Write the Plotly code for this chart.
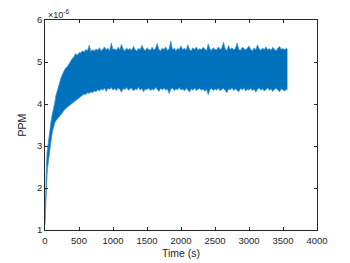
import plotly.graph_objects as go

# Envelope of the noisy PPM signal (values in units of 1e-6)
t_rise = [0, 5, 10, 15, 20, 30, 40, 50, 60, 70,
          80, 90, 100, 115, 130, 145, 160, 175, 190, 205,
          220, 240, 260, 280, 300, 325, 350, 375, 400, 425,
          450, 475, 500]
upper_rise = [1.25, 1.80, 2.10, 2.30, 2.50, 2.85, 3.00, 3.15, 3.30, 3.40,
              3.50, 3.60, 3.70, 3.80, 3.95, 4.05, 4.20, 4.28, 4.40, 4.50,
              4.55, 4.65, 4.72, 4.78, 4.85, 4.88, 4.95, 5.02, 5.08, 5.12,
              5.20, 5.16, 5.22]
lower_rise = [1.12, 1.35, 1.65, 1.90, 2.05, 2.30, 2.50, 2.65, 2.80, 2.95,
              3.05, 3.15, 3.25, 3.38, 3.48, 3.55, 3.60, 3.63, 3.65, 3.67,
              3.72, 3.76, 3.80, 3.85, 3.89, 3.92, 3.95, 3.98, 4.02, 4.05,
              4.08, 4.11, 4.14]

t_plateau = [525, 550, 575, 600, 625, 650, 675, 700, 725, 750,
             775, 800, 825, 850, 875, 900, 925, 950, 975, 1000,
             1025, 1050, 1075, 1100, 1125, 1150, 1175, 1200, 1225, 1250,
             1275, 1300, 1325, 1350, 1375, 1400, 1425, 1450, 1475, 1500,
             1525, 1550, 1575, 1600, 1625, 1650, 1675, 1700, 1725, 1750,
             1775, 1800, 1825, 1850, 1875, 1900, 1925, 1950, 1975, 2000,
             2025, 2050, 2075, 2100, 2125, 2150, 2175, 2200, 2225, 2250,
             2275, 2300, 2325, 2350, 2375, 2400, 2425, 2450, 2475, 2500,
             2525, 2550, 2575, 2600, 2625, 2650, 2675, 2700, 2725, 2750,
             2775, 2800, 2825, 2850, 2875, 2900, 2925, 2950, 2975, 3000,
             3025, 3050, 3075, 3100, 3125, 3150, 3175, 3200, 3225, 3250,
             3275, 3300, 3325, 3350, 3375, 3400, 3425, 3450, 3475, 3500,
             3525, 3550, 3565]
upper_plateau = [5.22, 5.26, 5.24, 5.30, 5.27, 5.40, 5.25, 5.29, 5.26, 5.31,
                 5.28, 5.34, 5.27, 5.30, 5.36, 5.29, 5.33, 5.27, 5.45, 5.30,
                 5.31, 5.28, 5.35, 5.29, 5.42, 5.30, 5.27, 5.33, 5.29, 5.32,
                 5.28, 5.37, 5.30, 5.26, 5.33, 5.29, 5.40, 5.31, 5.27, 5.34,
                 5.30, 5.28, 5.35, 5.29, 5.32, 5.44, 5.30, 5.27, 5.33, 5.30,
                 5.36, 5.28, 5.31, 5.50, 5.29, 5.33, 5.27, 5.32, 5.30, 5.38,
                 5.29, 5.33, 5.28, 5.41, 5.30, 5.27, 5.34, 5.30, 5.36, 5.28,
                 5.32, 5.29, 5.35, 5.30, 5.27, 5.43, 5.31, 5.28, 5.34, 5.30,
                 5.29, 5.36, 5.30, 5.33, 5.47, 5.31, 5.28, 5.39, 5.30, 5.34,
                 5.29, 5.32, 5.45, 5.30, 5.28, 5.35, 5.31, 5.29, 5.33, 5.38,
                 5.30, 5.27, 5.34, 5.29, 5.41, 5.31, 5.28, 5.33, 5.30, 5.36,
                 5.29, 5.32, 5.28, 5.35, 5.30, 5.27, 5.33, 5.37, 5.30, 5.32,
                 5.29, 5.33, 5.30]
lower_plateau = [4.18, 4.21, 4.24, 4.22, 4.27, 4.25, 4.29, 4.27, 4.31, 4.29,
                 4.34, 4.31, 4.36, 4.33, 4.38, 4.30, 4.37, 4.35, 4.39, 4.33,
                 4.37, 4.32, 4.38, 4.35, 4.28, 4.37, 4.34, 4.39, 4.33, 4.36,
                 4.38, 4.31, 4.36, 4.34, 4.40, 4.33, 4.37, 4.29, 4.36, 4.34,
                 4.38, 4.32, 4.36, 4.33, 4.39, 4.35, 4.30, 4.37, 4.34, 4.38,
                 4.33, 4.36, 4.25, 4.35, 4.38, 4.32, 4.36, 4.34, 4.39, 4.33,
                 4.36, 4.31, 4.37, 4.34, 4.28, 4.36, 4.33, 4.38, 4.32, 4.35,
                 4.37, 4.33, 4.36, 4.30, 4.35, 4.22, 4.34, 4.37, 4.32, 4.36,
                 4.33, 4.38, 4.31, 4.35, 4.37, 4.32, 4.27, 4.36, 4.34, 4.38,
                 4.32, 4.36, 4.33, 4.29, 4.37, 4.34, 4.38, 4.31, 4.35, 4.33,
                 4.37, 4.32, 4.36, 4.28, 4.35, 4.38, 4.33, 4.36, 4.31, 4.35,
                 4.38, 4.33, 4.36, 4.30, 4.35, 4.37, 4.32, 4.29, 4.36, 4.34,
                 4.31, 4.35, 4.33]

x_ticks = [0, 500, 1000, 1500, 2000, 2500, 3000, 3500, 4000]
y_ticks = [1, 2, 3, 4, 5, 6]

SCALE = 1e-6
blue = "#0072BD"
edge = "#3d93d0"
axis_col = "#262626"
font = "Liberation Sans, Arial, sans-serif"

t_all = t_rise + t_plateau
upper = [v * SCALE for v in upper_rise + upper_plateau]
lower = [v * SCALE for v in lower_rise + lower_plateau]

fig = go.Figure()
fig.add_trace(go.Scatter(x=t_all, y=lower, mode="lines",
                         line=dict(color=edge, width=0.7), showlegend=False, hoverinfo="skip"))
fig.add_trace(go.Scatter(x=t_all, y=upper, mode="lines",
                         line=dict(color=edge, width=0.7), fill="tonexty", fillcolor=blue,
                         showlegend=False, hoverinfo="skip"))

axis_common = dict(ticks="inside", ticklen=3, tickwidth=0.6, tickcolor=axis_col,
                   showline=True, linecolor=axis_col, linewidth=0.6, mirror="ticks",
                   showgrid=False, zeroline=False, automargin=False,
                   tickfont=dict(size=9.5, color=axis_col))

# The page body adds an 8 px offset, so the figure is 8 px smaller each way
fig.update_layout(
    width=342, height=255,
    margin=dict(l=37, r=33, t=12, b=33),
    paper_bgcolor="white", plot_bgcolor="white",
    font=dict(family=font, size=10, color=axis_col),
    xaxis=dict(range=[0, 4000], tickvals=x_ticks, ticktext=[str(v) for v in x_ticks],
               ticklabelstandoff=2,
               title=dict(text="Time (s)", font=dict(size=10.5), standoff=4), **axis_common),
    yaxis=dict(range=[1e-6, 6e-6], tickvals=[v * SCALE for v in y_ticks], ticktext=[str(v) for v in y_ticks],
               title=dict(text="PPM", font=dict(size=10.5), standoff=8), **axis_common),
    annotations=[dict(text="×10<sup>-6</sup>", xref="paper", yref="paper", x=0.005, y=1.0,
                      xanchor="left", yanchor="bottom", yshift=-2, showarrow=False,
                      font=dict(size=9, color=axis_col))],
)

fig.write_html("out.html")
